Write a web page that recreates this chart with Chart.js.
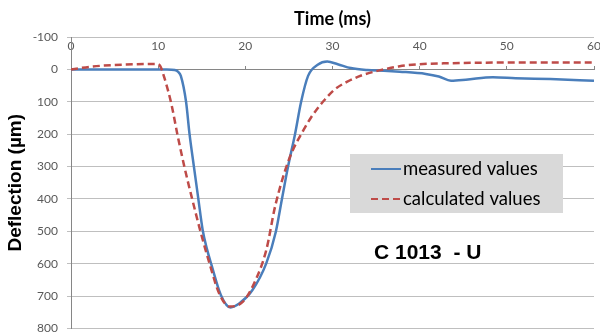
<!DOCTYPE html>
<html>
<head>
<meta charset="utf-8">
<script src="https://cdn.jsdelivr.net/npm/chart.js@4/dist/chart.umd.min.js"></script>
<style>
  html, body { margin: 0; padding: 0; background: #fff; }
  #wrap { width: 600px; height: 336px; }
</style>
</head>
<body>
<div id="wrap"><canvas id="chart"></canvas></div>
<script>
// values (time in ms, deflection in µm, positive = down)
const measuredTime = [0, 5, 10, 11, 11.9, 12.3, 12.6, 13.2, 13.6, 14.1, 14.6, 15.1, 15.6, 16.1, 17.2, 18.3, 19.3, 20.8, 22.4, 23.5, 24.2, 24.9, 25.7, 26.4, 27.2, 28.3, 29.4, 30.6, 32.1, 34.0, 35.9, 37.7, 40.7, 42.2, 43.6, 45.3, 48.4, 51.0, 55.0, 60];
const measuredDefl = [0, 0, 0, 0, 2, 8, 20, 100, 200, 300, 398, 495, 555, 602, 697, 735, 723, 682, 599, 501, 400, 300, 200, 100, 20, -14, -24, -16, -4, 2, 4, 7, 14, 22, 35, 32, 24, 27, 30, 35];

const calcTime = [0, 2.5, 6.3, 9.8, 10.2, 10.7, 11.5, 12.2, 13.0, 13.9, 14.85, 15.9, 17.0, 18.2, 19.7, 21.0, 22.4, 23.45, 25.05, 26.7, 27.5, 28.5, 28.9, 30.2, 31.7, 33.3, 34.8, 35.9, 37.7, 40.0, 43.4, 49.0, 60];
const calcDefl = [0, -9, -15, -17, -12, 25, 105, 200, 300, 400, 500, 600, 692, 732, 718, 661, 558, 419, 275, 186, 150, 113, 100, 63, 38, 19, 7, 0, -10, -16, -19, -21, -21];

const seriesLabels = ['measured values', 'calculated values'];
const xTicks = [0, 10, 20, 30, 40, 50, 60];
const yTicks = [-100, 0, 100, 200, 300, 400, 500, 600, 700, 800];
const sampleName = 'C 1013  - U';

function toPoints(xs, ys) {
    return xs.map((x, i) => ({x: x, y: ys[i]}));
}

// gray legend box + sample label, drawn on top of the plot
const boxPlugin = {
    id: 'boxPlugin',
    afterDraw(chart) {
        const ctx = chart.ctx;
        ctx.save();
        ctx.fillStyle = '#d9d9d9';
        ctx.fillRect(350, 154, 213, 59);

        chart.data.datasets.forEach((ds, i) => {
            const y = 169 + i * 30;
            ctx.strokeStyle = ds.borderColor;
            ctx.lineWidth = 2;
            ctx.setLineDash(ds.borderDash || []);
            ctx.beginPath();
            ctx.moveTo(371, y);
            ctx.lineTo(401, y);
            ctx.stroke();
            ctx.setLineDash([]);
            ctx.fillStyle = '#000';
            ctx.font = '18.5px Lato';
            ctx.textBaseline = 'middle';
            ctx.textAlign = 'left';
            ctx.fillText(ds.label, 403, y);
        });

        ctx.fillStyle = '#000';
        ctx.font = 'bold 21px "Liberation Sans"';
        ctx.textAlign = 'left';
        ctx.textBaseline = 'alphabetic';
        ctx.fillText(sampleName, 374, 259);
        ctx.restore();
    }
};

new Chart(document.getElementById('chart'), {
    type: 'line',
    data: {
        datasets: [{
            label: seriesLabels[0],
            data: toPoints(measuredTime, measuredDefl),
            borderColor: '#4a7ebb',
            borderWidth: 2.5,
            pointRadius: 0,
            cubicInterpolationMode: 'monotone',
            order: 1
        }, {
            label: seriesLabels[1],
            data: toPoints(calcTime, calcDefl),
            borderColor: '#be4b48',
            borderWidth: 2.5,
            borderDash: [7, 4],
            pointRadius: 0,
            cubicInterpolationMode: 'monotone',
            order: 0
        }]
    },
    options: {
        responsive: true,
        maintainAspectRatio: false,
        animation: false,
        layout: { padding: { left: 0, right: 6, top: 0, bottom: 0 } },
        plugins: {
            legend: { display: false },
            tooltip: { enabled: false },
            title: {
                display: true,
                text: 'Time (ms)',
                fullSize: false,
                color: '#000',
                font: { family: 'Lato', size: 18, weight: 'bold' },
                padding: { top: 8, bottom: 7.4 }
            }
        },
        scales: {
            x: {
                type: 'linear',
                position: { y: 0 },
                min: 0,
                max: 60,
                afterBuildTicks: (scale) => { scale.ticks = xTicks.map(v => ({value: v})); },
                grid: { drawOnChartArea: false, tickLength: -4, color: '#868686' },
                border: { color: '#868686' },
                ticks: { padding: -26, color: '#595959', font: { family: 'Lato', size: 12 } }
            },
            y: {
                type: 'linear',
                position: 'left',
                reverse: true,
                min: -100,
                max: 800,
                afterBuildTicks: (scale) => { scale.ticks = yTicks.map(v => ({value: v})); },
                afterFit: (scale) => {
                    scale.width = 71;
                    // tick padding would otherwise pad the plot top/bottom too
                    scale.paddingTop = 7;
                    scale.paddingBottom = 7.5;
                },
                grid: { color: '#bfbfbf', tickLength: 4 },
                border: { color: '#868686' },
                ticks: { padding: 9, color: '#595959', font: { family: 'Lato', size: 12 } },
                title: {
                    display: true,
                    text: 'Deflection (µm)',
                    color: '#000',
                    font: { family: 'Liberation Sans', size: 19, weight: 'bold' },
                    padding: { top: 4, bottom: 0 }
                }
            }
        }
    },
    plugins: [boxPlugin]
});
</script>
</body>
</html>
